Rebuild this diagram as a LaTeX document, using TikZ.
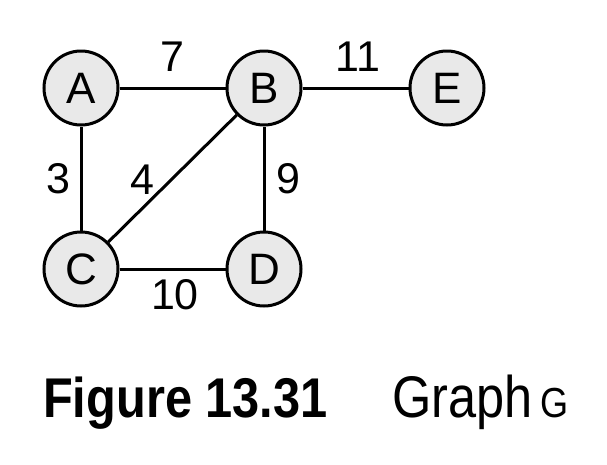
\documentclass[tikz,border=0pt]{standalone}
\usepackage{fontspec}
\setmainfont{Liberation Sans}
\newfontfamily\figboldfont[FakeStretch=0.87]{Liberation Sans}
\newfontfamily\figtitlefont[FakeStretch=0.86]{Liberation Sans}
\usetikzlibrary{positioning}

\begin{document}
\begin{tikzpicture}[x=1pt, y=-1pt,
    vertex/.style={circle, draw=black, line width=3pt, fill=gray!17,
      minimum size=74pt, inner sep=0pt, font=\fontsize{44}{44}\selectfont},
    weight/.style={midway, inner sep=0pt, font=\fontsize{43}{43}\selectfont},
    edge/.style={line width=3pt}]
    \useasboundingbox (0,0) rectangle (607,464);

    \node[vertex] (A) at (81,88) {A};
    \node[vertex] (B) at (264,88) {B};
    \node[vertex] (E) at (447,88) {E};
    \node[vertex] (C) at (81,269) {C};
    \node[vertex] (D) at (264,269) {D};

    \draw[edge] (A) -- (B) node[weight, yshift=31pt] {7};
    \draw[edge] (B) -- (E) node[weight, yshift=31pt, xshift=2.5pt] {11};
    \draw[edge] (A) -- (C) node[weight, xshift=-23pt] {3};
    \draw[edge] (B) -- (C) node[weight, xshift=-30pt, yshift=-1pt] {4};
    \draw[edge] (B) -- (D) node[weight, xshift=24pt] {9};
    \draw[edge] (C) -- (D) node[weight, yshift=-26pt, xshift=2.5pt] {10};

    \node[anchor=base west, inner sep=0pt] (fig) at (43,417)
      {\figboldfont\bfseries\fontsize{56}{56}\selectfont Figure 13.31};
    \node[anchor=base west, inner sep=0pt] (title) at (392.5,417)
      {\figtitlefont\fontsize{58.7}{58.7}\selectfont Graph\hspace{7pt}{\fontsize{42}{42}\selectfont G}};
\end{tikzpicture}
\end{document}
